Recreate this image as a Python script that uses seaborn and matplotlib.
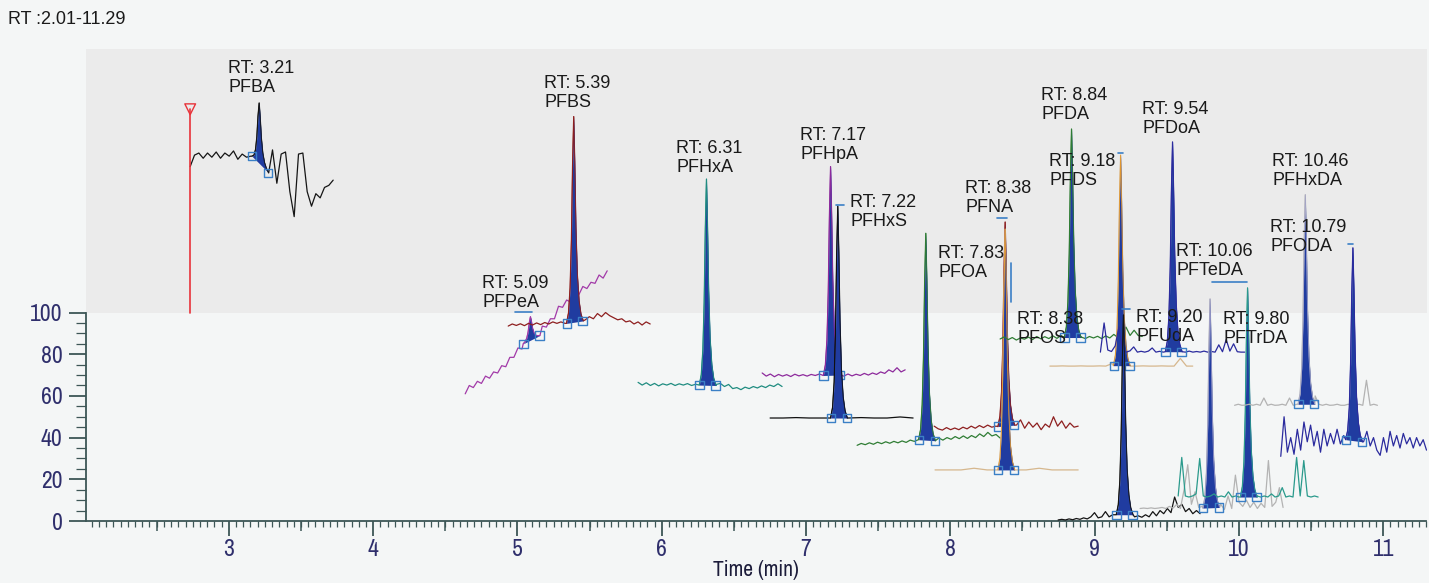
import numpy as np
import pandas as pd
import matplotlib
matplotlib.use("Agg")
import matplotlib.pyplot as plt
from matplotlib.ticker import MultipleLocator, FixedLocator
from matplotlib import font_manager
import seaborn as sns

# ------------------------------------------------------------------ data
compounds = ["PFBA", "PFPeA", "PFBS", "PFHxA", "PFHpA", "PFHxS", "PFOA", "PFNA",
             "PFOS", "PFDA", "PFDS", "PFDoA", "PFUdA", "PFTrDA", "PFTeDA",
             "PFHxDA", "PFODA"]
retention_times = [3.21, 5.09, 5.39, 6.31, 7.17, 7.22, 7.83, 8.38,
                   8.38, 8.84, 9.18, 9.54, 9.20, 9.80, 10.06, 10.46, 10.79]
apex_heights = [200.5, 98, 194, 164, 170, 151, 138, 143.4,
                140, 188, 175.5, 181.8, 98.8, 106.5, 111.8, 156.5, 131]
peak_base_left = [175, 85, 94.8, 65.2, 69.8, 49.4, 39, 45.3,
                  24.5, 88, 74.5, 81.2, 3, 6.2, 11.5, 56, 39]
peak_base_right = [167, 89, 96, 65, 70, 49.4, 38.5, 46,
                   24.5, 88, 74.5, 81.2, 3, 6.5, 11.5, 56, 38]
trace_start = [2.732, 4.638, 4.936, 5.836, 6.696, 6.751, 7.354, 7.888,
               7.894, 8.345, 8.69, 9.04, 8.747, 9.315, 9.579, 9.97, 10.29]
trace_end = [3.723, 5.622, 5.92, 6.834, 7.687, 7.742, 8.345, 8.886,
             8.886, 9.33, 9.68, 10.04, 9.731, 10.306, 10.549, 10.96, 11.30]

pfba_signal = [170, 175.5, 176.5, 174, 176.5, 174.5, 177, 174, 176.5, 175, 177.5,
               173.5, 176, 174.5, 175, 175, 175, 172, 170, 178, 162, 176, 177, 158,
               146, 176, 176.5, 158, 151, 157, 155, 160, 161, 163.5]
pfpea_signal = [61, 65, 64, 67, 66, 69.5, 68.5, 71.5, 71, 74.5, 74, 78.5, 78.5, 83,
                82.5, 87, 88, 90, 89.5, 93.5, 93, 97, 97, 103, 102.5, 106, 105,
                109.5, 108.5, 112.5, 111.5, 114.5, 114, 118, 116.5, 120]
pfbs_signal = [93.5, 94.5, 93.8, 94.6, 93.7, 94.8, 94, 95, 94.2, 95.2, 94.5, 95.5,
               94.8, 95.5, 94.8, 95, 95, 95, 95, 96.5, 98, 97, 99.5, 98, 100, 98.5,
               97.5, 96.5, 97, 95.5, 96, 94.5, 95.5, 94, 95.5, 94.5]
pfhxa_signal = [66.5, 65.2, 66.3, 65, 66, 64.8, 65.8, 65.2, 66, 65, 65.8, 65.2,
                65.9, 65, 65.6, 65.2, 65, 65, 65, 65.5, 66, 64.5, 65.5, 63.5, 64, 63,
                64.2, 63.5, 64.5, 63.8, 64.8, 64, 65.2, 64.5, 65.8, 64.5]
pfhpa_signal = [71, 69.5, 70.5, 69.2, 70.3, 69.5, 70.2, 69.3, 70.4, 69.6, 70.2, 69.5,
                70.3, 69.8, 70.5, 69.8, 70, 70, 70, 70, 69.5, 70.5, 69.6, 70.4, 69.8,
                70.8, 70, 71, 70.3, 71.5, 70.8, 72.5, 71.5, 73.5, 71.5, 72.5]
pfhxs_signal = [49.4, 49.4, 49.6, 49.4, 49.4, 49.4, 49.4, 49.6, 49.4, 49.4, 49.9, 49.4]
pfoa_signal = [36.3, 37.2, 36.6, 37.5, 36.8, 37.8, 37.1, 38, 37.3, 38.2, 37.5, 38.4,
               37.7, 38.8, 38.2, 39, 39, 39, 39, 38.5, 39.8, 38.8, 40, 39.2, 40.5,
               39.5, 40.8, 39.6, 41, 40, 41.8, 40.5, 42.5, 40.8, 41.5, 39.8]
pfna_signal = [45.5, 44.2, 43.6, 44.8, 43.8, 44.6, 43.8, 45, 44.2, 45.5, 44.5, 45.8,
               44.8, 46, 45, 45.5, 45, 45, 45, 45, 46, 48.5, 44.5, 47.5, 45, 47, 43.8,
               46.5, 45, 50, 45.5, 48, 44.5, 47, 45, 45.5]
pfos_signal = [24.5, 24.5, 24.5, 25.3, 24.5, 24.5, 24.5, 24.5, 25.3, 24.5, 24.5, 24.5]
pfda_signal = [87.3, 88.3, 87, 88, 86.8, 87.8, 87.2, 88.2, 87, 88.5, 87.4, 88.4, 87.5,
               88.8, 87.6, 89, 88, 88, 88, 88, 88.2, 87.5, 88.5, 87.8, 88.6, 87.5,
               88.8, 87.8, 89.5, 88, 90.5, 93, 89, 91.5, 89, 88.5]
pfds_signal = [74.3, 74.3, 74.4, 74.3, 74.3, 74.4, 74.3, 74.3, 74.4, 74.3, 75.5, 74.5,
               74.5, 74.3, 74.3, 74.4, 74.3, 74.3, 74.4, 74.3, 74.3, 78, 74.3, 74.3]
pfdoa_signal = [81, 95, 82, 81.3, 84, 93, 81.8, 81, 81.6, 83.5, 81, 81.4, 81, 81.5,
                83, 81, 81.4, 81, 81, 81, 81, 81, 81.2, 81, 81.5, 81, 81.3, 81, 81.5,
                81, 81.3, 81, 84.5, 81.2, 87, 81.5, 85, 81.2, 81, 81]
pfuda_signal = [0.5, 0.8, 0.5, 1.0, 0.6, 1.2, 0.8, 1.5, 1.0, 2.0, 4.0, 1.5, 2.0, 4.5,
                2.0, 3.0, 6.5, 3, 3, 3, 3, 2.0, 2.5, 1.8, 3.0, 2.0, 4.5, 2.5, 5.0, 3.5,
                6.0, 4.0, 11.5, 6.5, 8.0, 4.5, 6.0, 3.5, 5.0, 3.5]
pftrda_signal = [6.0, 6.2, 6.0, 6.3, 6.0, 6.2, 6.5, 6.0, 7.0, 6.2, 8.0, 6.0, 15.0,
                 27.0, 8.0, 14.0, 6.5, 7.0, 6.2, 6.2, 6.2, 6.2, 8.0, 5.5, 12.0, 6.0,
                 22.0, 9.0, 7.0, 10.0, 6.5, 9.0, 6.0, 8.5, 6.5, 29.0, 7.0, 9.0, 16.0, 6.5]
pfteda_signal = [12, 30.5, 12, 11.5, 12, 13, 30, 12, 11.5, 12, 13, 11.5, 12, 11.5, 14,
                 11.5, 12, 11.5, 11.5, 11.5, 11.5, 11.5, 12, 11.5, 12, 11.5, 13, 11.5,
                 12, 16, 11.5, 12, 11.5, 30.5, 12, 29, 12, 11.5, 12, 11.5]
pfhxda_signal = [55.5, 56, 55.5, 55.6, 56, 55.5, 56, 55.5, 59, 55.5, 56, 55.5, 55.6,
                 56, 55.5, 59, 55.5, 56, 56, 56, 56, 56, 60, 56, 55.5, 56, 55.5, 55.6,
                 56, 55.5, 55.5, 56, 55.5, 55.6, 56, 55.5, 67.5, 55.5, 56, 55.5]
pfoda_signal = [31, 50, 33, 40, 32, 44, 34, 47.5, 38, 46, 36, 43, 33, 44, 36, 42, 37,
                44, 37, 41, 39, 39, 39, 39, 39, 38, 43, 36, 40, 34, 31.5, 40, 33, 43,
                36, 41, 35, 42, 37, 40, 35, 40, 36, 39, 34]

signals = [pfba_signal, pfpea_signal, pfbs_signal, pfhxa_signal, pfhpa_signal,
           pfhxs_signal, pfoa_signal, pfna_signal, pfos_signal, pfda_signal,
           pfds_signal, pfdoa_signal, pfuda_signal, pftrda_signal, pfteda_signal,
           pfhxda_signal, pfoda_signal]

# shared peak profile read from the narrow peaks (offset in min, fraction of height)
peak_offsets = [-0.05, -0.036, -0.025, -0.016, -0.008, 0.0, 0.007, 0.015, 0.025,
                0.037, 0.05, 0.066]
peak_profile = [0.0, 0.05, 0.17, 0.4, 0.76, 1.0, 0.78, 0.46, 0.23, 0.1, 0.035, 0.0]

# small integration-marker strokes seen above some peaks (t0, t1, y0, y1)
marker_t0 = [4.985, 9.816, 8.423, 8.325, 9.164, 10.757, 9.19, 7.21]
marker_t1 = [5.100, 10.059, 8.423, 8.393, 9.199, 10.792, 9.245, 7.262]
marker_y0 = [100.4, 114.6, 123.7, 145.3, 176.5, 132.9, 101.5, 151.5]
marker_y1 = [100.4, 114.6, 105.0, 145.3, 176.5, 132.9, 101.5, 151.5]

injection_time = 2.732
injection_span = [100, 197.5]

x_tick_values = [3, 4, 5, 6, 7, 8, 9, 10, 11]
y_tick_values = [0, 20, 40, 60, 80, 100]

# ------------------------------------------------------------------ styles / layout
trace_colors = ["#151515", "#a23aa8", "#8e1f1f", "#1f8c80", "#8d2a9c", "#101010",
                "#2f7d34", "#8e1f1f", "#d6b78d", "#2f7d34", "#d6b78d", "#2b2b9e",
                "#151515", "#b3b3b3", "#2a9a8c", "#b3b3b3", "#2b2b9e"]
peak_line_colors = ["#151515", "#a23aa8", "#8e1f1f", "#1f8c80", "#8d2a9c", "#101010",
                    "#2f7d34", "#8e1f1f", "#e0962e", "#2f7d34", "#e0962e", "#2b2b9e",
                    "#151515", "#9a9ac8", "#2a9a8c", "#a8a8c8", "#2b2b9e"]
label_x = [2.995, 4.755, 5.185, 6.100, 6.959, 7.306, 7.915, 8.102, 8.463, 8.629,
           8.685, 9.329, 9.288, 9.891, 9.565, 10.23, 10.216]
label_y = [221.1, 118.0, 213.9, 182.7, 189.0, 156.8, 132.4, 163.5, 100.7, 208.2,
           176.5, 201.4, 101.7, 100.7, 133.3, 176.5, 144.8]

BG = "#f4f6f6"
BAND = "#ebebeb"
AXC = "#3d5656"
TICKC = "#2f2f6c"
FILL = "#203ca0"
SQ = "#3b80c6"

sns.set_style("ticks")
ttf = font_manager.fontManager.ttflist
names = {f.name for f in ttf}
main_font = "Liberation Sans" if "Liberation Sans" in names else "DejaVu Sans"
tick_kw = {"fontfamily": main_font}
tick_size = 14
label_size = 15
narrow_names = sorted(n for n in names if ("Narrow" in n or "Condensed" in n))
if "Liberation Sans Narrow" in names:
    tick_kw = {"fontfamily": "Liberation Sans Narrow"}
    tick_size, label_size = 17, 15.5
elif narrow_names:
    tick_kw = {"fontfamily": narrow_names[0]}
    tick_size, label_size = 17, 15.5
elif any(f.name == "DejaVu Sans" and str(f.stretch) in ("condensed", "semi-condensed")
         for f in ttf):
    tick_kw = {"fontfamily": "DejaVu Sans", "fontstretch": "condensed"}
    tick_size, label_size = 15, 14
plt.rcParams["font.family"] = [main_font, "DejaVu Sans"]

W, H = 1429, 583
fig = plt.figure(figsize=(W / 100, H / 100), dpi=100, facecolor=BG)
ax = fig.add_axes([86 / W, (H - 521) / H, (1426.5 - 86) / W, 472 / H])
ax.set_facecolor(BG)
ax.set_xlim(2.01, 11.30)
ax.set_ylim(0, 226.4)
ax.axhspan(100, 226.4, color=BAND, lw=0, zorder=0)

offs = np.array(peak_offsets)
prof = np.array(peak_profile)
frac = (offs - offs[0]) / (offs[-1] - offs[0])

for i, name in enumerate(compounds):
    vals = np.array(signals[i], dtype=float)
    t = np.linspace(trace_start[i], trace_end[i], len(vals))
    rt = retention_times[i]
    pk_t = rt + offs
    pk_base = peak_base_left[i] + (peak_base_right[i] - peak_base_left[i]) * frac
    b_rt = pk_base[offs == 0.0][0]
    pk_y = pk_base + prof * (apex_heights[i] - b_rt)
    left = t < pk_t[0]
    right = t > pk_t[-1]
    df = pd.DataFrame({"t": np.concatenate([t[left], pk_t, t[right]]),
                       "y": np.concatenate([vals[left], pk_y, vals[right]])})
    z = 2 + i * 0.5
    sns.lineplot(data=df, x="t", y="y", color=trace_colors[i], lw=0.9,
                 estimator=None, sort=False, ax=ax, zorder=z)
    ax.fill_between(pk_t, pk_base, pk_y, color=FILL, lw=0, zorder=z + 0.1)
    ax.plot(pk_t, pk_y, color=peak_line_colors[i], lw=0.6, zorder=z + 0.2)
    ax.scatter([pk_t[0] + 0.002, pk_t[-1] - 0.004], [pk_base[0], pk_base[-1]],
               marker="s", s=36, facecolors="none", edgecolors=SQ, linewidths=1.0,
               zorder=z + 0.3)
    ax.text(label_x[i], label_y[i], f"RT: {rt:.2f}\n{name}", ha="left", va="top",
            fontsize=13, color="#1a1a1a", linespacing=1.15, zorder=60)

for t0, t1, y0, y1 in zip(marker_t0, marker_t1, marker_y0, marker_y1):
    ax.plot([t0, t1], [y0, y1], color=SQ, lw=1.2, zorder=40)

# injection marker
ax.plot([injection_time, injection_time], injection_span, color="#e8333a", lw=1.2,
        zorder=30)
ax.scatter([injection_time], [injection_span[1]], marker="v", s=60,
           facecolors="none", edgecolors="#e8333a", linewidths=1.0, zorder=31)

# axes styling
for s in ["top", "right"]:
    ax.spines[s].set_visible(False)
ax.spines["left"].set_bounds(0, 100)
for s in ["left", "bottom"]:
    ax.spines[s].set_color(AXC)
    ax.spines[s].set_linewidth(1.3)

ax.set_xticks(x_tick_values)
ax.set_xticklabels([str(v) for v in x_tick_values], fontsize=tick_size,
                   color=TICKC, **tick_kw)
ax.xaxis.set_minor_locator(MultipleLocator(0.05))
ax.set_yticks(y_tick_values)
ax.set_yticklabels([str(v) for v in y_tick_values], fontsize=tick_size,
                   color=TICKC, **tick_kw)
ax.yaxis.set_minor_locator(FixedLocator(np.arange(0, 101, 5)))
ax.tick_params(axis="x", which="major", length=11, width=1.3, color=AXC, pad=2)
ax.tick_params(axis="x", which="minor", length=4, width=0.9, color=AXC)
ax.tick_params(axis="y", which="major", length=12, width=1.3, color=AXC, pad=5)
ax.tick_params(axis="y", which="minor", length=7, width=0.9, color=AXC)

half = ax.secondary_xaxis("bottom")
half.set_xticks(np.arange(2.5, 11.3, 1.0))
half.tick_params(axis="x", which="major", length=7, width=1.1, color=AXC,
                 labelbottom=False)
half.spines["bottom"].set_visible(False)

ax.set_xlabel("Time (min)", fontsize=label_size, color="#1c1c3a", labelpad=0,
              **tick_kw)
ax.set_ylabel("")

fig.text(8 / W, 1 - 11 / H, "RT :2.01-11.29", ha="left", va="top", fontsize=13,
         color="#1a1a1a")

fig.savefig("out.png", dpi=100, facecolor=BG)
